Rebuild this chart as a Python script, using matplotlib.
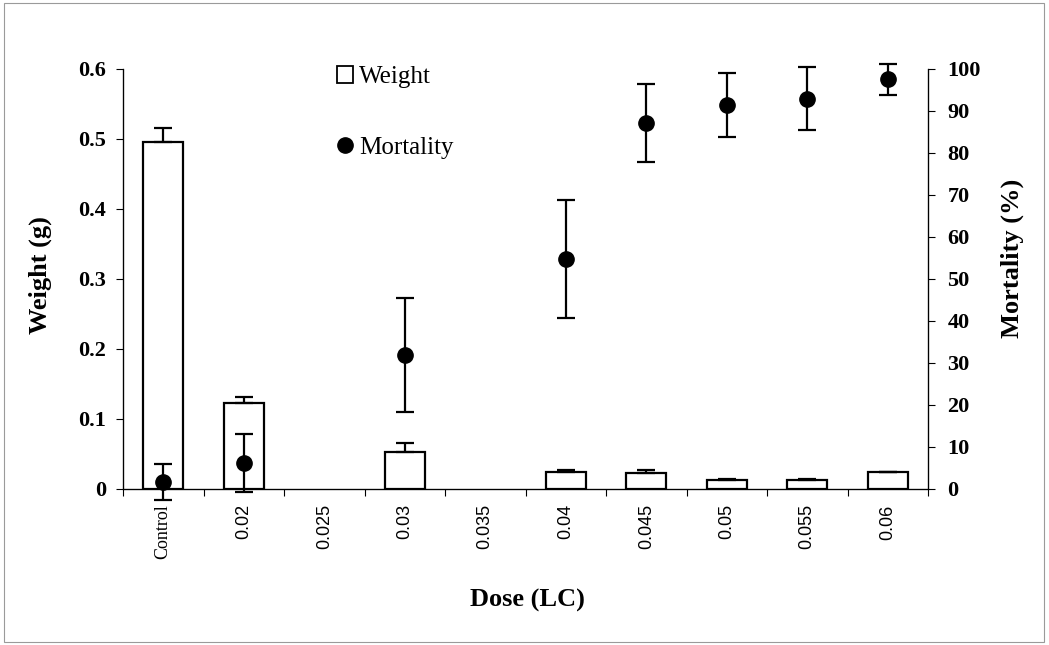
import numpy as np
import matplotlib
matplotlib.use("Agg")
import matplotlib.pyplot as plt
from matplotlib.patches import Rectangle, Patch
from matplotlib.lines import Line2D

categories = ["Control", "0.02", "0.025", "0.03", "0.035", "0.04", "0.045", "0.05", "0.055", "0.06"]
weight = [0.496, 0.123, np.nan, 0.053, np.nan, 0.025, 0.023, 0.013, 0.013, 0.024]
weight_err = [0.020, 0.009, np.nan, 0.013, np.nan, 0.002, 0.004, 0.001, 0.001, 0.001]
mortality = [1.7, 6.2, np.nan, 31.9, np.nan, 54.8, 87.2, 91.5, 92.9, 97.6]
mortality_err = [4.2, 7.0, np.nan, 13.5, np.nan, 14.0, 9.3, 7.6, 7.5, 3.7]
weight_ticks = [0, 0.1, 0.2, 0.3, 0.4, 0.5, 0.6]
weight_ticklabels = ["0", "0.1", "0.2", "0.3", "0.4", "0.5", "0.6"]
mort_ticks = list(range(0, 101, 10))

serif = "Liberation Serif"
sans = "Liberation Sans"

W, H = 1049, 645
fig = plt.figure(figsize=(W/100, H/100), dpi=100)
fig.patches.append(Rectangle((0.004, 0.005), 0.991, 0.99, transform=fig.transFigure,
                             fill=False, ec="#9a9a9a", lw=0.8))

ax = fig.add_axes([123/W, 1-489/H, (928-123)/W, (489-69)/H])
x = np.arange(len(categories))

ax.bar(x, weight, width=0.5, color="white", edgecolor="black", linewidth=1.6, zorder=2)
w = np.array(weight); we = np.array(weight_err)
ax.errorbar(x, w, yerr=[np.zeros_like(we), we], fmt="none", ecolor="black",
            elinewidth=1.6, capsize=6.5, capthick=1.6, zorder=3)
ax.set_xlim(-0.5, len(categories) - 0.5)
ax.set_ylim(0, 0.6)
ax.set_yticks(weight_ticks)
ax.set_yticklabels(weight_ticklabels, fontfamily=serif, fontweight="bold", fontsize=16)
ax.set_xticks(np.arange(-0.5, len(categories)), minor=False)
ax.set_xticklabels([])
ax.set_xticks(x, minor=True)
ax.set_xticklabels(categories, minor=True, rotation=90, fontsize=13)
for lbl in ax.get_xticklabels(minor=True):
    lbl.set_fontfamily(serif if lbl.get_text() == "Control" else sans)
ax.tick_params(axis="x", which="minor", length=0, pad=11)
ax.tick_params(axis="x", which="major", length=5, direction="out", width=0.8)
ax.tick_params(axis="y", length=5, width=0.8, direction="out", pad=7)
ax.spines["top"].set_visible(False)
for s in ["left", "bottom", "right"]:
    ax.spines[s].set_linewidth(0.9)

ax2 = ax.twinx()
ax2.errorbar(x, mortality, yerr=mortality_err, fmt="o", color="black", markersize=11,
             ecolor="black", elinewidth=1.6, capsize=6.5, capthick=1.6, zorder=4, clip_on=False)
ax2.set_ylim(0, 100)
ax2.set_yticks(mort_ticks)
ax2.set_yticklabels([str(t) for t in mort_ticks], fontfamily=serif, fontweight="bold", fontsize=16)
ax2.tick_params(axis="y", length=5, width=0.8, direction="out", pad=9)
ax2.spines["top"].set_visible(False)

lab = dict(fontfamily=serif, fontweight="bold", fontsize=19)
fig.text(40/W, 1-275/H, "Weight (g)", rotation=90, ha="center", va="center", **lab)
fig.text(1012/W, 1-258/H, "Mortality (%)", rotation=90, ha="center", va="center", **lab)
fig.text(527/W, 1-600/H, "Dose (LC)", ha="center", va="center", **lab)

handles = [Patch(facecolor="white", edgecolor="black", linewidth=1.3),
           Line2D([], [], marker="o", color="black", linestyle="none", markersize=11)]
fig.legend(handles, ["Weight", "Mortality"], loc="upper left",
           bbox_to_anchor=(337/W, 1-66/H), frameon=False, borderpad=0, borderaxespad=0,
           prop={"family": serif, "size": 18}, handlelength=0.65, handleheight=0.65,
           handletextpad=0.22, labelspacing=1.95)

fig.savefig("out.png", dpi=100)
